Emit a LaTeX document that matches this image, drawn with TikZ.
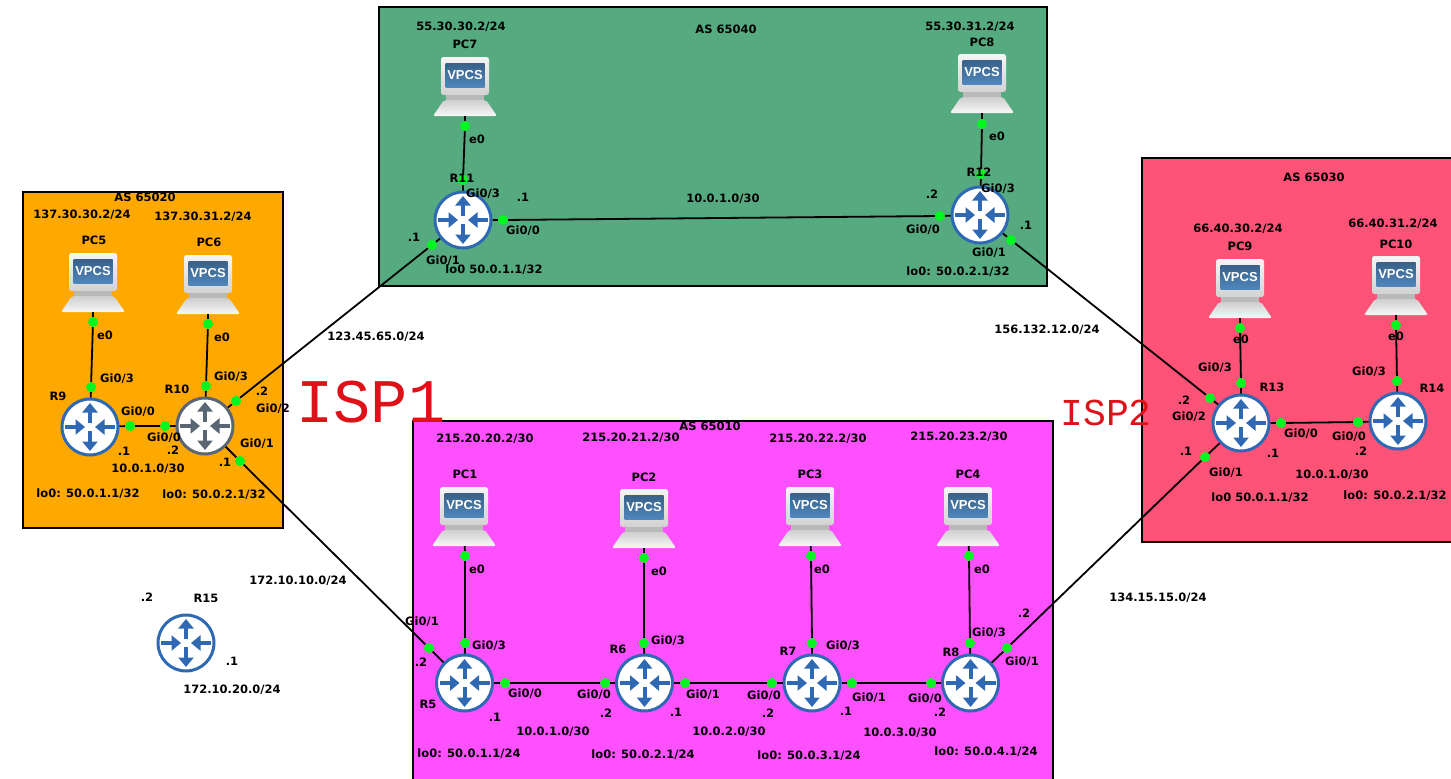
\documentclass[tikz,border=0pt]{standalone}
\usepackage{fontspec}
\setmainfont{DejaVu Sans}
\newfontfamily\labelfont{Liberation Sans}
\newfontfamily\handfont{Liberation Mono}
\usetikzlibrary{arrows.meta}
\definecolor{asorange}{HTML}{FFA800}
\definecolor{asgreen}{HTML}{55AA80}
\definecolor{aspink}{HTML}{FF5277}
\definecolor{asmagenta}{HTML}{FF50FF}
\definecolor{routerblue}{HTML}{2F69B3}
\definecolor{routergray}{HTML}{5B6675}
\definecolor{portgreen}{HTML}{00F820}
\definecolor{screenblue}{HTML}{4F86BC}
\definecolor{inkred}{HTML}{E01018}
\tikzset{
	asbox/.style = {draw = black , line width = 2pt},
	router/.style = {circle , draw = #1 , line width = 3pt , fill = white , minimum size = 56pt , inner sep = 0pt},
	port/.style = {circle , fill = portgreen , minimum size = 10pt , inner sep = 0pt},
	link/.style = {draw = black , line width = 1.8pt},
	lbl/.style = {inner sep = 0pt , font = \bfseries\fontsize{11.5}{12}\selectfont},
	isp/.style = {inner sep = 0pt , text = inkred , font = \handfont\fontsize{#1}{#1}\selectfont},
	pics/routericon/.style = {code = {
		\draw[#1 , line width = 4pt , -{Triangle[length = 9.5pt , width = 15pt]}] (0 , -4) -- (0 , -24);
		\draw[#1 , line width = 4pt , -{Triangle[length = 9.5pt , width = 15pt]}] (0 , 4) -- (0 , 24);
		\draw[#1 , line width = 4pt , -{Triangle[length = 9.5pt , width = 15pt]}] (-25 , 0) -- (-5 , 0);
		\draw[#1 , line width = 4pt , -{Triangle[length = 9.5pt , width = 15pt]}] (25 , 0) -- (5 , 0);
	}},
	pics/laptop/.style = {code = {
		\shade[rounded corners = 2.5pt , top color = gray!8 , bottom color = gray!35] (-24 , 0) rectangle (24 , 38);
		\shade[top color = screenblue!72!black , bottom color = screenblue] (-19.5 , 6) rectangle (19.5 , 30);
		\fill[gray!55] (-19 , 38) rectangle (19 , 43);
		\shade[rounded corners = 2pt , top color = gray!38 , bottom color = gray!6] (-21 , 43) -- (21 , 43) -- (32 , 59) -- (-32 , 59) -- cycle;
		\node[inner sep = 0pt , text = white , font = \labelfont\bfseries\fontsize{13}{13}\selectfont] (face) at (0 , 18) {VPCS};
		\node[inner sep = 0pt , minimum width = 64pt , minimum height = 59pt] (box) at (0 , 29.5) {};
	}}
}
\begin{document}
\begin{tikzpicture}[x = 1pt , y = -1pt]
	\useasboundingbox (0 , 0) rectangle (1451 , 779);
	\clip (0 , 0) rectangle (1451 , 779);
	\fill[white] (0 , 0) rectangle (1451 , 779);
	\filldraw[asbox , fill = asorange] (23 , 192) rectangle (283 , 528);
	\filldraw[asbox , fill = asgreen] (379 , 7) rectangle (1047 , 286);
	\filldraw[asbox , fill = aspink] (1142 , 158) rectangle (1465 , 542);
	\filldraw[asbox , fill = asmagenta] (413 , 421) rectangle (1053 , 795);

	\node[router = routerblue] (r5) at (464.5 , 683) {};
	\node[router = routerblue] (r6) at (644.5 , 683) {};
	\node[router = routerblue] (r7) at (812 , 683) {};
	\node[router = routerblue] (r8) at (970.5 , 683) {};
	\node[router = routerblue] (r9) at (90 , 427) {};
	\node[router = routergray] (r10) at (205 , 426) {};
	\node[router = routerblue] (r11) at (463 , 220) {};
	\node[router = routerblue] (r12) at (980 , 215) {};
	\node[router = routerblue] (r13) at (1241 , 423) {};
	\node[router = routerblue] (r14) at (1398 , 421) {};
	\node[router = routerblue] (r15) at (186 , 643) {};
	\pic at (r5) {routericon = routerblue};
	\pic at (r6) {routericon = routerblue};
	\pic at (r7) {routericon = routerblue};
	\pic at (r8) {routericon = routerblue};
	\pic at (r9) {routericon = routerblue};
	\pic at (r10) {routericon = routergray};
	\pic at (r11) {routericon = routerblue};
	\pic at (r12) {routericon = routerblue};
	\pic at (r13) {routericon = routerblue};
	\pic at (r14) {routericon = routerblue};
	\pic at (r15) {routericon = routerblue};

	\pic (pc1) at (464 , 487) {laptop};
	\pic (pc2) at (644 , 489) {laptop};
	\pic (pc3) at (810 , 487) {laptop};
	\pic (pc4) at (968 , 487) {laptop};
	\pic (pc5) at (93 , 253) {laptop};
	\pic (pc6) at (208 , 255) {laptop};
	\pic (pc7) at (465 , 57) {laptop};
	\pic (pc8) at (982 , 54) {laptop};
	\pic (pc9) at (1240 , 259) {laptop};
	\pic (pc10) at (1396 , 256) {laptop};

	\node[port] (pc1e0) at (465 , 556) {};
	\node[port] (pc2e0) at (644 , 558) {};
	\node[port] (pc3e0) at (811 , 556) {};
	\node[port] (pc4e0) at (969 , 556) {};
	\node[port] (pc5e0) at (93 , 322) {};
	\node[port] (pc6e0) at (208 , 324) {};
	\node[port] (pc7e0) at (465 , 126) {};
	\node[port] (pc8e0) at (982 , 124) {};
	\node[port] (pc9e0) at (1240 , 328) {};
	\node[port] (pc10e0) at (1396 , 325) {};
	\node[port] (r5g0) at (505 , 683) {};
	\node[port] (r5g1) at (429 , 648) {};
	\node[port] (r5g3) at (465 , 643) {};
	\node[port] (r6g0) at (605 , 683) {};
	\node[port] (r6g1) at (685 , 683) {};
	\node[port] (r6g3) at (644 , 643) {};
	\node[port] (r7g0) at (772 , 683) {};
	\node[port] (r7g1) at (852 , 683) {};
	\node[port] (r7g3) at (812 , 643) {};
	\node[port] (r8g0) at (931 , 683) {};
	\node[port] (r8g1) at (1007 , 648) {};
	\node[port] (r8g3) at (970 , 643) {};
	\node[port] (r9g0) at (130 , 426) {};
	\node[port] (r9g3) at (91 , 387) {};
	\node[port] (r10g0) at (165 , 426) {};
	\node[port] (r10g1) at (240 , 461) {};
	\node[port] (r10g2) at (236 , 401) {};
	\node[port] (r10g3) at (206 , 386) {};
	\node[port] (r11g0) at (503 , 220) {};
	\node[port] (r11g1) at (432 , 245) {};
	\node[port] (r11g3) at (463 , 180) {};
	\node[port] (r12g0) at (940 , 216) {};
	\node[port] (r12g1) at (1011 , 240) {};
	\node[port] (r12g3) at (981 , 174) {};
	\node[port] (r13g0) at (1281 , 423) {};
	\node[port] (r13g1) at (1205 , 457) {};
	\node[port] (r13g2) at (1210 , 398) {};
	\node[port] (r13g3) at (1241 , 383) {};
	\node[port] (r14g0) at (1358 , 422) {};
	\node[port] (r14g3) at (1397 , 381) {};

	\draw[link] (pc1box) -- (pc1e0) -- (r5g3) -- (r5);
	\draw[link] (pc2box) -- (pc2e0) -- (r6g3) -- (r6);
	\draw[link] (pc3box) -- (pc3e0) -- (r7g3) -- (r7);
	\draw[link] (pc4box) -- (pc4e0) -- (r8g3) -- (r8);
	\draw[link] (pc5box) -- (pc5e0) -- (r9g3) -- (r9);
	\draw[link] (pc6box) -- (pc6e0) -- (r10g3) -- (r10);
	\draw[link] (pc7box) -- (pc7e0) -- (r11g3) -- (r11);
	\draw[link] (pc8box) -- (pc8e0) -- (r12g3) -- (r12);
	\draw[link] (pc9box) -- (pc9e0) -- (r13g3) -- (r13);
	\draw[link] (pc10box) -- (pc10e0) -- (r14g3) -- (r14);
	\draw[link] (r5) -- (r5g0) -- (r6g0) -- (r6);
	\draw[link] (r6) -- (r6g1) -- (r7g0) -- (r7);
	\draw[link] (r7) -- (r7g1) -- (r8g0) -- (r8);
	\draw[link] (r9) -- (r9g0) -- (r10g0) -- (r10);
	\draw[link] (r11) -- (r11g0) -- (r12g0) -- (r12);
	\draw[link] (r13) -- (r13g0) -- (r14g0) -- (r14);
	\draw[link] (r10) -- (r10g2) -- (r11g1) -- (r11);
	\draw[link] (r10) -- (r10g1) -- (r5g1) -- (r5);
	\draw[link] (r12) -- (r12g1) -- (r13g2) -- (r13);
	\draw[link] (r13) -- (r13g1) -- (r8g1) -- (r8);

	\node[lbl] (as65020) at (145 , 197) {AS 65020};
	\node[lbl] (ippc5) at (82 , 215) {137.30.30.2/24};
	\node[lbl] (ippc6) at (203 , 217) {137.30.31.2/24};
	\node[lbl] (namepc5) at (94 , 240) {PC5};
	\node[lbl] (namepc6) at (209 , 242) {PC6};
	\node[lbl] (e0pc5) at (105 , 335) {e0};
	\node[lbl] (e0pc6) at (222 , 337) {e0};
	\node[lbl] (txtr9g3) at (117 , 379) {Gi0/3};
	\node[lbl] (txtr10g3) at (231 , 377) {Gi0/3};
	\node[lbl] (namer9) at (58 , 396) {R9};
	\node[lbl] (namer10) at (177 , 389) {R10};
	\node[lbl] (txtr10g2) at (273 , 409) {Gi0/2};
	\node[lbl] (ipr10g2) at (262 , 391) {.2};
	\node[lbl] (txtr9g0) at (138 , 412) {Gi0/0};
	\node[lbl] (txtr10g0) at (164 , 438) {Gi0/0};
	\node[lbl] (ipr9g0) at (124 , 451) {.1};
	\node[lbl] (ipr10g0) at (173 , 450) {.2};
	\node[lbl] (txtr10g1) at (257 , 444) {Gi0/1};
	\node[lbl] (ipr10g1) at (225 , 462) {.1};
	\node[lbl] (netr9) at (148 , 469) {10.0.1.0/30};
	\node[lbl] (lor9) at (88 , 494) {lo0: 50.0.1.1/32};
	\node[lbl] (lor10) at (214 , 495) {lo0: 50.0.2.1/32};
	\node[lbl] (netisp1a) at (376 , 337) {123.45.65.0/24};

	\node[lbl] (ippc7) at (461 , 27) {55.30.30.2/24};
	\node[lbl] (namepc7) at (465 , 44) {PC7};
	\node[lbl] (as65040) at (726 , 29) {AS 65040};
	\node[lbl] (ippc8) at (970 , 27) {55.30.31.2/24};
	\node[lbl] (namepc8) at (982 , 42) {PC8};
	\node[lbl] (e0pc7) at (477 , 139) {e0};
	\node[lbl] (e0pc8) at (997 , 136) {e0};
	\node[lbl] (namer11) at (462 , 178) {R11};
	\node[lbl] (txtr11g3) at (483 , 194) {Gi0/3};
	\node[lbl] (ipr11g0) at (523 , 197) {.1};
	\node[lbl] (netr11) at (723 , 199) {10.0.1.0/30};
	\node[lbl] (ipr12g0) at (932 , 194) {.2};
	\node[lbl] (namer12) at (979 , 172) {R12};
	\node[lbl] (txtr12g3) at (998 , 189) {Gi0/3};
	\node[lbl] (txtr11g0) at (523 , 231) {Gi0/0};
	\node[lbl] (txtr12g0) at (923 , 230) {Gi0/0};
	\node[lbl] (ipr11g1) at (414 , 237) {.1};
	\node[lbl] (txtr11g1) at (443 , 261) {Gi0/1};
	\node[lbl] (lor11) at (494 , 270) {lo0 50.0.1.1/32};
	\node[lbl] (ipr12g1) at (1026 , 225) {.1};
	\node[lbl] (txtr12g1) at (989 , 253) {Gi0/1};
	\node[lbl] (lor12) at (958 , 272) {lo0: 50.0.2.1/32};

	\node[lbl] (as65030) at (1314 , 177) {AS 65030};
	\node[lbl] (ippc9) at (1238 , 229) {66.40.30.2/24};
	\node[lbl] (namepc9) at (1240 , 246) {PC9};
	\node[lbl] (ippc10) at (1393 , 224) {66.40.31.2/24};
	\node[lbl] (namepc10) at (1396 , 244) {PC10};
	\node[lbl] (netisp2a) at (1047 , 330) {156.132.12.0/24};
	\node[lbl] (e0pc9) at (1241 , 339) {e0};
	\node[lbl] (e0pc10) at (1396 , 336) {e0};
	\node[lbl] (txtr13g3) at (1215 , 368) {Gi0/3};
	\node[lbl] (txtr14g3) at (1369 , 372) {Gi0/3};
	\node[lbl] (namer13) at (1272 , 387) {R13};
	\node[lbl] (namer14) at (1432 , 388) {R14};
	\node[lbl] (ipr13g2) at (1184 , 400) {.2};
	\node[lbl] (txtr13g2) at (1189 , 417) {Gi0/2};
	\node[lbl] (txtr13g0) at (1301 , 434) {Gi0/0};
	\node[lbl] (txtr14g0) at (1349 , 437) {Gi0/0};
	\node[lbl] (ipr13g1) at (1186 , 451) {.1};
	\node[lbl] (ipr13g0) at (1273 , 453) {.1};
	\node[lbl] (ipr14g0) at (1361 , 451) {.2};
	\node[lbl] (txtr13g1) at (1226 , 473) {Gi0/1};
	\node[lbl] (netr13) at (1332 , 475) {10.0.1.0/30};
	\node[lbl] (lor13) at (1260 , 498) {lo0 50.0.1.1/32};
	\node[lbl] (lor14) at (1395 , 496) {lo0: 50.0.2.1/32};

	\node[lbl] (as65010) at (710 , 426) {AS 65010};
	\node[lbl] (ippc1) at (485 , 439) {215.20.20.2/30};
	\node[lbl] (ippc2) at (631 , 438) {215.20.21.2/30};
	\node[lbl] (ippc3) at (818 , 439) {215.20.22.2/30};
	\node[lbl] (ippc4) at (959 , 437) {215.20.23.2/30};
	\node[lbl] (namepc1) at (465 , 474) {PC1};
	\node[lbl] (namepc2) at (644 , 477) {PC2};
	\node[lbl] (namepc3) at (810 , 474) {PC3};
	\node[lbl] (namepc4) at (968 , 474) {PC4};
	\node[lbl] (e0pc1) at (477 , 569) {e0};
	\node[lbl] (e0pc2) at (659 , 571) {e0};
	\node[lbl] (e0pc3) at (822 , 569) {e0};
	\node[lbl] (e0pc4) at (982 , 569) {e0};
	\node[lbl] (txtr5g1) at (422 , 622) {Gi0/1};
	\node[lbl] (ipr5g1) at (421 , 662) {.2};
	\node[lbl] (txtr5g3) at (489 , 646) {Gi0/3};
	\node[lbl] (namer5) at (428 , 704) {R5};
	\node[lbl] (txtr5g0) at (525 , 694) {Gi0/0};
	\node[lbl] (ipr5g0) at (495 , 717) {.1};
	\node[lbl] (txtr6g0) at (594 , 695) {Gi0/0};
	\node[lbl] (ipr6g0) at (606 , 713) {.2};
	\node[lbl] (namer6) at (618 , 649) {R6};
	\node[lbl] (txtr6g3) at (668 , 641) {Gi0/3};
	\node[lbl] (txtr6g1) at (703 , 695) {Gi0/1};
	\node[lbl] (ipr6g1) at (676 , 712) {.1};
	\node[lbl] (namer7) at (788 , 651) {R7};
	\node[lbl] (txtr7g3) at (843 , 646) {Gi0/3};
	\node[lbl] (txtr7g0) at (764 , 696) {Gi0/0};
	\node[lbl] (ipr7g0) at (768 , 713) {.2};
	\node[lbl] (txtr7g1) at (869 , 698) {Gi0/1};
	\node[lbl] (ipr7g1) at (846 , 711) {.1};
	\node[lbl] (namer8) at (951 , 652) {R8};
	\node[lbl] (txtr8g3) at (989 , 633) {Gi0/3};
	\node[lbl] (txtr8g0) at (925 , 699) {Gi0/0};
	\node[lbl] (ipr8g0) at (940 , 712) {.2};
	\node[lbl] (txtr8g1) at (1022 , 662) {Gi0/1};
	\node[lbl] (ipr8g1) at (1024 , 613) {.2};
	\node[lbl] (netr5) at (553 , 732) {10.0.1.0/30};
	\node[lbl] (netr6) at (729 , 732) {10.0.2.0/30};
	\node[lbl] (netr7) at (900 , 733) {10.0.3.0/30};
	\node[lbl] (lor5) at (469 , 754) {lo0: 50.0.1.1/24};
	\node[lbl] (lor6) at (643 , 755) {lo0: 50.0.2.1/24};
	\node[lbl] (lor7) at (809 , 756) {lo0: 50.0.3.1/24};
	\node[lbl] (lor8) at (986 , 752) {lo0: 50.0.4.1/24};

	\node[lbl] (netisp1b) at (298 , 581) {172.10.10.0/24};
	\node[lbl] (netisp2b) at (1158 , 598) {134.15.15.0/24};
	\node[lbl] (netr15) at (232 , 690) {172.10.20.0/24};
	\node[lbl] (ipr15a) at (147 , 597) {.2};
	\node[lbl] (namer15) at (206 , 598) {R15};
	\node[lbl] (ipr15b) at (232 , 661) {.1};

	\node[isp = 62] (isp1) at (371 , 402) {ISP1};
	\node[isp = 38] (isp2) at (1106 , 413) {ISP2};
\end{tikzpicture}
\end{document}
